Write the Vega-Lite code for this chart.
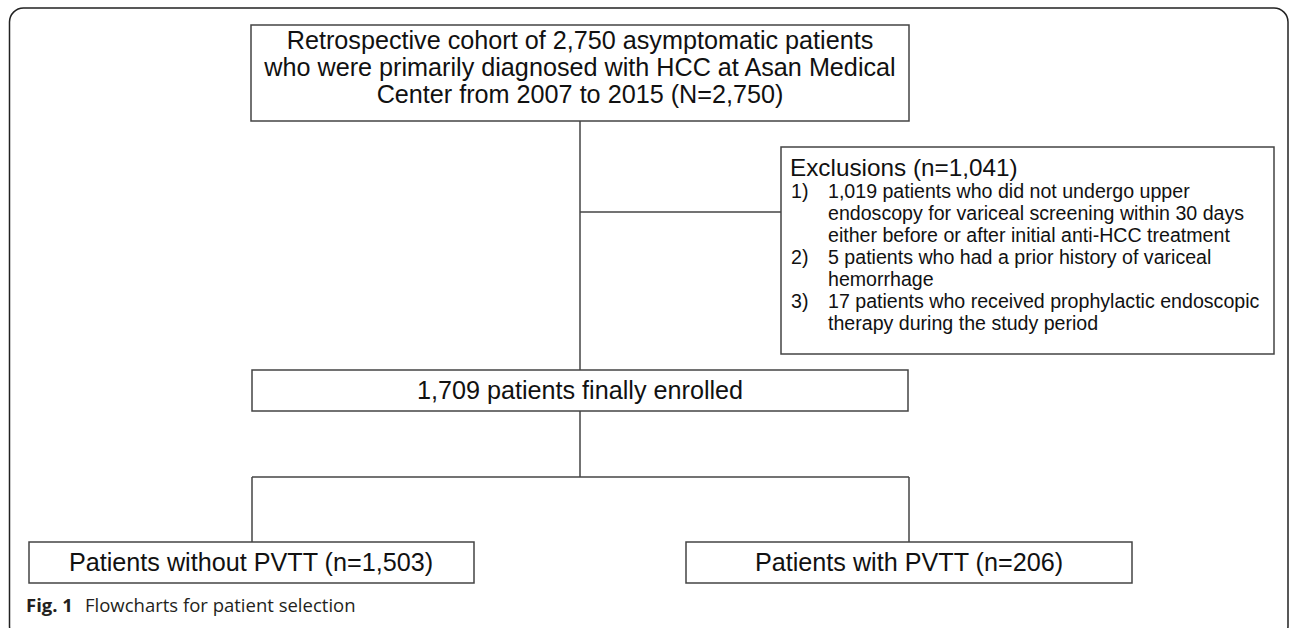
{
  "$schema": "https://vega.github.io/schema/vega-lite/v6.json",
  "autosize": {"type": "fit", "contains": "padding"},
  "width": 1290,
  "height": 628,
  "padding": 0,
  "background": "white",
  "config": {"view": {"stroke": null}},
  "datasets": {
    "frame": [{"x1": 9.5, "x2": 1288, "y1": 8, "y2": 640}],
    "boxes": [
      {"box": "cohort", "x1": 251, "x2": 909, "y1": 25, "y2": 121},
      {"box": "exclusions", "x1": 781, "x2": 1274, "y1": 147, "y2": 354},
      {"box": "enrolled", "x1": 252, "x2": 908, "y1": 370, "y2": 411},
      {"box": "without", "x1": 29, "x2": 474, "y1": 542, "y2": 583},
      {"box": "with", "x1": 686, "x2": 1132, "y1": 542, "y2": 583}
    ],
    "links": [
      {"x1": 580, "y1": 121, "x2": 580, "y2": 370},
      {"x1": 580, "y1": 212, "x2": 781, "y2": 212},
      {"x1": 580, "y1": 411, "x2": 580, "y2": 477},
      {"x1": 252, "y1": 477, "x2": 909, "y2": 477},
      {"x1": 252, "y1": 477, "x2": 252, "y2": 542},
      {"x1": 909, "y1": 477, "x2": 909, "y2": 542}
    ],
    "centerText": [
      {"label": "Retrospective cohort of 2,750 asymptomatic patients", "x": 580, "y": 49},
      {"label": "who were primarily diagnosed with HCC at Asan Medical", "x": 580, "y": 76},
      {"label": "Center from 2007 to 2015 (N=2,750)", "x": 580, "y": 103},
      {"label": "1,709 patients finally enrolled", "x": 580, "y": 399},
      {"label": "Patients without PVTT  (n=1,503)", "x": 251, "y": 571},
      {"label": "Patients with PVTT (n=206)", "x": 909, "y": 571}
    ],
    "exclTitle": [{"label": "Exclusions (n=1,041)", "x": 790, "y": 176}],
    "itemNums": [
      {"label": "1)", "x": 791, "y": 198},
      {"label": "2)", "x": 791, "y": 264},
      {"label": "3)", "x": 791, "y": 308}
    ],
    "itemText": [
      {"label": "1,019 patients who did not undergo upper", "x": 828, "y": 198},
      {"label": "endoscopy for variceal screening within 30 days", "x": 828, "y": 220},
      {"label": "either before or after initial anti-HCC treatment", "x": 828, "y": 242},
      {"label": "5 patients who had a prior history of variceal", "x": 828, "y": 264},
      {"label": "hemorrhage", "x": 828, "y": 286},
      {"label": "17 patients who received prophylactic endoscopic", "x": 828, "y": 308},
      {"label": "therapy during the study period", "x": 828, "y": 330}
    ],
    "captionBold": [{"label": "Fig. 1", "x": 26, "y": 612}],
    "caption": [{"label": "Flowcharts for patient selection", "x": 85, "y": 612}]
  },
  "layer": [
    {
      "data": {"name": "frame"},
      "mark": {"type": "rect", "fill": "white", "fillOpacity": 0, "stroke": "#222222", "strokeWidth": 1.5, "cornerRadius": 14, "clip": true},
      "encoding": {
        "x": {"field": "x1", "type": "quantitative", "scale": {"domain": [0, 1290], "nice": false, "zero": false}, "axis": null},
        "x2": {"field": "x2"},
        "y": {"field": "y1", "type": "quantitative", "scale": {"domain": [0, 628], "reverse": true, "nice": false, "zero": false}, "axis": null},
        "y2": {"field": "y2"}
      }
    },
    {
      "data": {"name": "links"},
      "mark": {"type": "rule", "stroke": "#444444", "strokeWidth": 1.5},
      "encoding": {
        "x": {"field": "x1", "type": "quantitative"},
        "x2": {"field": "x2"},
        "y": {"field": "y1", "type": "quantitative"},
        "y2": {"field": "y2"}
      }
    },
    {
      "data": {"name": "boxes"},
      "mark": {"type": "rect", "fill": "white", "stroke": "#444444", "strokeWidth": 1.5},
      "encoding": {
        "x": {"field": "x1", "type": "quantitative"},
        "x2": {"field": "x2"},
        "y": {"field": "y1", "type": "quantitative"},
        "y2": {"field": "y2"}
      }
    },
    {
      "data": {"name": "centerText"},
      "mark": {"type": "text", "align": "center", "baseline": "alphabetic", "font": "Liberation Sans", "fontSize": 25.2, "color": "#111111"},
      "encoding": {
        "x": {"field": "x", "type": "quantitative"},
        "y": {"field": "y", "type": "quantitative"},
        "text": {"field": "label"}
      }
    },
    {
      "data": {"name": "exclTitle"},
      "mark": {"type": "text", "align": "left", "baseline": "alphabetic", "font": "Liberation Sans", "fontSize": 24.3, "color": "#111111"},
      "encoding": {
        "x": {"field": "x", "type": "quantitative"},
        "y": {"field": "y", "type": "quantitative"},
        "text": {"field": "label"}
      }
    },
    {
      "data": {"name": "itemNums"},
      "mark": {"type": "text", "align": "left", "baseline": "alphabetic", "font": "Liberation Sans", "fontSize": 19.6, "color": "#111111"},
      "encoding": {
        "x": {"field": "x", "type": "quantitative"},
        "y": {"field": "y", "type": "quantitative"},
        "text": {"field": "label"}
      }
    },
    {
      "data": {"name": "itemText"},
      "mark": {"type": "text", "align": "left", "baseline": "alphabetic", "font": "Liberation Sans", "fontSize": 19.6, "color": "#111111"},
      "encoding": {
        "x": {"field": "x", "type": "quantitative"},
        "y": {"field": "y", "type": "quantitative"},
        "text": {"field": "label"}
      }
    },
    {
      "data": {"name": "captionBold"},
      "mark": {"type": "text", "align": "left", "baseline": "alphabetic", "font": "Open Sans", "fontSize": 18.5, "fontWeight": "bold", "color": "#231f20"},
      "encoding": {
        "x": {"field": "x", "type": "quantitative"},
        "y": {"field": "y", "type": "quantitative"},
        "text": {"field": "label"}
      }
    },
    {
      "data": {"name": "caption"},
      "mark": {"type": "text", "align": "left", "baseline": "alphabetic", "font": "Open Sans", "fontSize": 18.5, "color": "#231f20"},
      "encoding": {
        "x": {"field": "x", "type": "quantitative"},
        "y": {"field": "y", "type": "quantitative"},
        "text": {"field": "label"}
      }
    }
  ]
}
